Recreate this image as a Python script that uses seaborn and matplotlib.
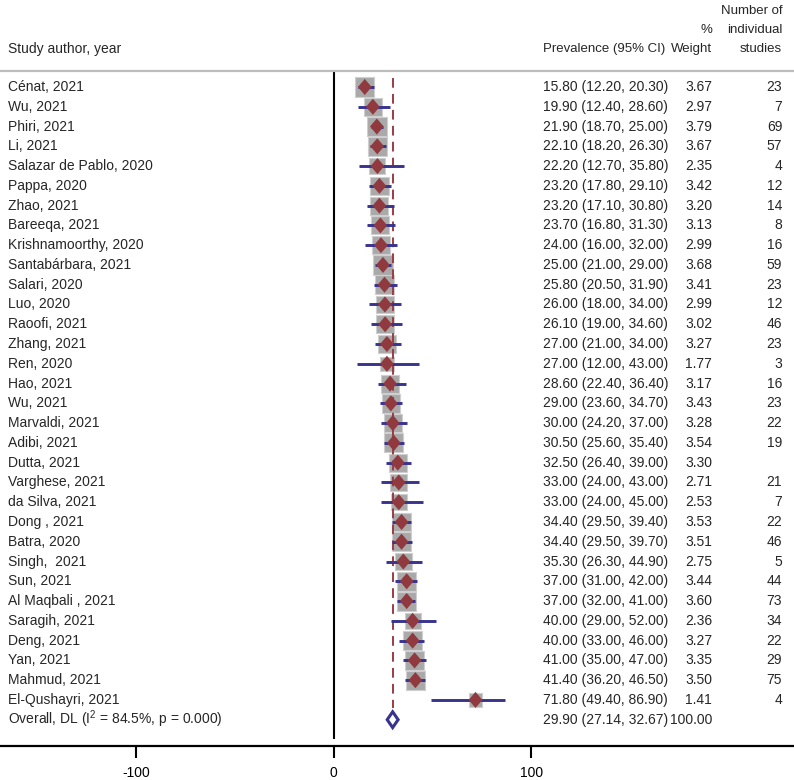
import matplotlib
matplotlib.use("Agg")
import matplotlib.pyplot as plt
import seaborn as sns
import pandas as pd
import numpy as np

# ---------------- data ----------------
studies = ["Cénat, 2021", "Wu, 2021", "Phiri, 2021", "Li, 2021", "Salazar de Pablo, 2020",
           "Pappa, 2020", "Zhao, 2021", "Bareeqa, 2021", "Krishnamoorthy, 2020",
           "Santabárbara, 2021", "Salari, 2020", "Luo, 2020", "Raoofi, 2021", "Zhang, 2021",
           "Ren, 2020", "Hao, 2021", "Wu, 2021", "Marvaldi, 2021", "Adibi, 2021", "Dutta, 2021",
           "Varghese, 2021", "da Silva, 2021", "Dong , 2021", "Batra, 2020", "Singh,  2021",
           "Sun, 2021", "Al Maqbali , 2021", "Saragih, 2021", "Deng, 2021", "Yan, 2021",
           "Mahmud, 2021", "El-Qushayri, 2021"]
est = [15.80, 19.90, 21.90, 22.10, 22.20, 23.20, 23.20, 23.70, 24.00, 25.00, 25.80, 26.00,
       26.10, 27.00, 27.00, 28.60, 29.00, 30.00, 30.50, 32.50, 33.00, 33.00, 34.40, 34.40,
       35.30, 37.00, 37.00, 40.00, 40.00, 41.00, 41.40, 71.80]
lo = [12.20, 12.40, 18.70, 18.20, 12.70, 17.80, 17.10, 16.80, 16.00, 21.00, 20.50, 18.00,
      19.00, 21.00, 12.00, 22.40, 23.60, 24.20, 25.60, 26.40, 24.00, 24.00, 29.50, 29.50,
      26.30, 31.00, 32.00, 29.00, 33.00, 35.00, 36.20, 49.40]
hi = [20.30, 28.60, 25.00, 26.30, 35.80, 29.10, 30.80, 31.30, 32.00, 29.00, 31.90, 34.00,
      34.60, 34.00, 43.00, 36.40, 34.70, 37.00, 35.40, 39.00, 43.00, 45.00, 39.40, 39.70,
      44.90, 42.00, 41.00, 52.00, 46.00, 47.00, 46.50, 86.90]
weight = [3.67, 2.97, 3.79, 3.67, 2.35, 3.42, 3.20, 3.13, 2.99, 3.68, 3.41, 2.99, 3.02, 3.27,
          1.77, 3.17, 3.43, 3.28, 3.54, 3.30, 2.71, 2.53, 3.53, 3.51, 2.75, 3.44, 3.60, 2.36,
          3.27, 3.35, 3.50, 1.41]
n_studies = [23, 7, 69, 57, 4, 12, 14, 8, 16, 59, 23, 12, 46, 23, 3, 16, 23, 22, 19, None,
             21, 7, 22, 46, 5, 44, 73, 34, 22, 29, 75, 4]

overall_label = "Overall, DL (I$^2$ = 84.5%, p = 0.000)"
overall_est, overall_lo, overall_hi, overall_weight = 29.90, 27.14, 32.67, 100.00

xticks = [-100, 0, 100]

# ---------------- style ----------------
sns.set_theme(style="white")
plt.rcParams["font.family"] = ["Liberation Sans", "DejaVu Sans"]
plt.rcParams["mathtext.fontset"] = "custom"
plt.rcParams["mathtext.rm"] = "Liberation Sans"

FS = 10
FS_H = 9.5
C_SQ = "#a9a9a9"
C_SQ_EDGE = "#cfcfcf"
C_RED = "#903a3f"
C_NAVY = "#38338f"
C_DASH = "#9c3b45"

df = pd.DataFrame({"study": studies, "est": est, "lo": lo, "hi": hi,
                   "weight": weight, "n": n_studies})
df["row"] = np.arange(len(df))
overall_row = len(df)

fig = plt.figure(figsize=(7.94, 7.80), dpi=100)
ax = fig.add_axes([0, 0, 1, 1])

# weighted squares
sns.scatterplot(data=df, x="est", y="row", size="weight", sizes=(92, 195),
                size_norm=(min(weight), max(weight)), marker="s", color=C_SQ,
                edgecolor=C_SQ_EDGE, linewidth=0.8, legend=False, ax=ax, zorder=2)

# overall reference dashed line
ax.vlines(overall_est, -0.45, overall_row - 0.6, colors=C_DASH, linestyles=(0, (5, 3.2)),
          linewidth=1.4, zorder=3)

# CIs
ax.hlines(df["row"], df["lo"], df["hi"], colors=C_NAVY, linewidth=2.1, zorder=4)

# point estimates (diamond markers)
diamond = [(0, 1), (0.85, 0), (0, -1), (-0.85, 0), (0, 1)]
sns.scatterplot(data=df, x="est", y="row", marker=diamond, s=135, color=C_RED,
                edgecolor="none", linewidth=0, legend=False, ax=ax, zorder=5)

# overall diamond
h = 0.40
ax.fill([overall_lo, overall_est, overall_hi, overall_est, overall_lo],
        [overall_row, overall_row - h, overall_row, overall_row + h, overall_row],
        facecolor="white", edgecolor=C_NAVY, linewidth=2.2, zorder=5)

# zero line
ax.vlines(0, -0.81, 33.0, colors="black", linewidth=1.5, zorder=1)

# header separator
ax.axhline(-0.81, color="#bdbdbd", linewidth=1.6, zorder=1)

# ---------------- text columns ----------------
X_LABEL = -164.6
X_PREV = 106.0
X_W = 191.5
X_N = 226.9

for r, row in df.iterrows():
    ax.text(X_LABEL, row["row"], row["study"], ha="left", va="center", fontsize=FS)
    ax.text(X_PREV, row["row"], f'{row["est"]:.2f} ({row["lo"]:.2f}, {row["hi"]:.2f})',
            ha="left", va="center", fontsize=FS)
    ax.text(X_W, row["row"], f'{row["weight"]:.2f}', ha="right", va="center", fontsize=FS)
    if row["n"] is not None and not pd.isna(row["n"]):
        ax.text(X_N, row["row"], f'{int(row["n"])}', ha="right", va="center", fontsize=FS)

ax.text(X_LABEL, overall_row, overall_label, ha="left", va="center", fontsize=FS)
ax.text(X_PREV, overall_row, f"{overall_est:.2f} ({overall_lo:.2f}, {overall_hi:.2f})",
        ha="left", va="center", fontsize=FS)
ax.text(X_W, overall_row, f"{overall_weight:.2f}", ha="right", va="center", fontsize=FS)

# headers
ax.text(X_LABEL, -1.92, "Study author, year", ha="left", va="center", fontsize=FS)
ax.text(X_PREV, -1.92, "Prevalence (95% CI)", ha="left", va="center", fontsize=FS_H)
ax.text(X_W, -1.92, "Weight", ha="right", va="center", fontsize=FS_H)
ax.text(X_W, -2.9, "%", ha="right", va="center", fontsize=FS_H)
ax.text(X_N, -1.92, "studies", ha="right", va="center", fontsize=FS_H)
ax.text(X_N, -2.9, "individual", ha="right", va="center", fontsize=FS_H)
ax.text(X_N, -3.85, "Number of", ha="right", va="center", fontsize=FS_H)

# ---------------- axes ----------------
ax.set_xlim(-168.7, 232.9)
ax.set_ylim(35.05, -4.40)
for s in ["top", "left", "right"]:
    ax.spines[s].set_visible(False)
ax.spines["bottom"].set_position(("data", 33.32))
ax.spines["bottom"].set_color("black")
ax.spines["bottom"].set_linewidth(1.6)
ax.set_xticks(xticks)
ax.set_xticklabels([str(t) for t in xticks])
ax.set_yticks([])
ax.tick_params(axis="x", direction="out", length=8.6, width=1.5, pad=6.0,
               labelsize=FS, colors="black", bottom=True)
ax.set_xlabel("")
ax.set_ylabel("")
ax.set_facecolor("white")
ax.grid(False)

fig.savefig("out.png", dpi=100, facecolor="white")
